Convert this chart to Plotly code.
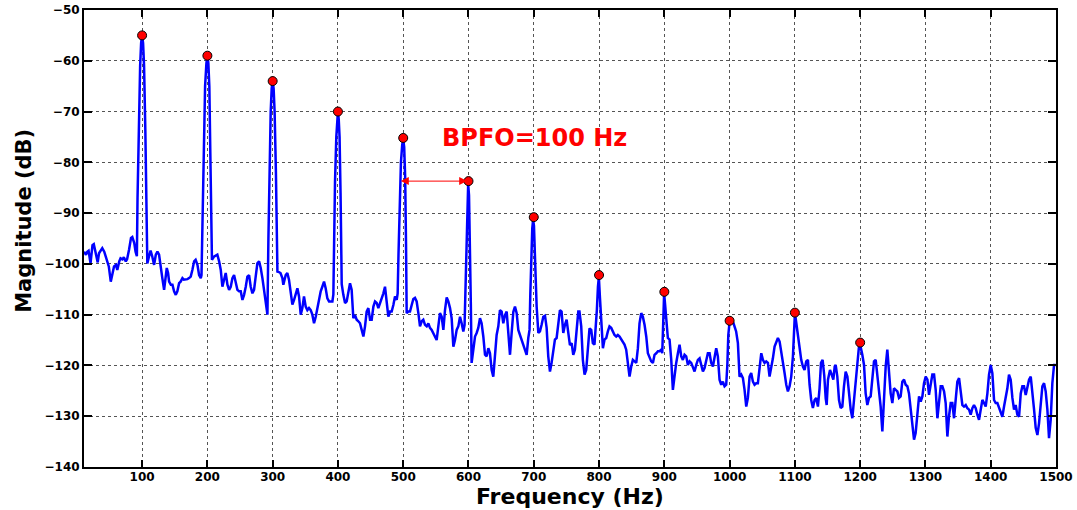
import plotly.graph_objects as go

# ---- spectrum samples: (frequency Hz, magnitude dB) ----
spectrum_points = [
    (11,-97.6),(14,-98.2),(16,-97.6),(18,-97.4),(21,-99.9),(24,-96.3),(26,-96.1),(29,-97.9),(32,-99.7),(34,-97.9),
    (37,-97.2),(39,-96.9),(42,-97.6),(44,-98.5),(47,-99.7),(49,-100.5),(52,-103.5),(55,-101.8),(57,-100.5),(60,-100.2),
    (62,-101.2),(65,-99.5),(67,-98.9),(70,-99.1),(72,-98.7),(75,-99.5),(77,-99.1),(80,-97.2),(83,-94.9),(85,-94.7),
    (88,-95.9),(90,-97.6),(92,-98.5),
    (93,-87),(94.5,-74),(97,-61),(98.5,-56.5),(100,-55),(101.5,-56.5),(103,-61),(105,-74),(106,-87),(107,-99.9),
    (108,-99.9),(110.7,-98.5),(113,-97.4),(115.5,-98.5),(118.4,-100.2),(121,-98.2),(123.5,-97.6),(126,-98.2),(128.6,-101.2),
    (131,-102.8),(133.7,-105.1),(136,-102.5),(137.8,-100.8),(139.8,-101.8),(141.4,-103.5),(144,-104.1),(146.5,-104.1),
    (149,-105.4),(151.6,-106.1),(154,-105.4),(156.7,-103.8),(159,-103.5),(161.8,-102.8),(164,-103.1),(166.8,-103.1),
    (169.4,-103),(172,-102.8),(174.5,-102.5),(177,-101.2),(179.7,-99.5),(182,-99.2),(184.8,-100.2),(187.3,-102.2),
    (189.9,-102.8),(191,-102.2),
    (192.5,-90),(194,-78),(196.5,-65),(198.5,-60.5),(200,-59),(201.5,-60.5),(203,-65),(204.5,-78),(205.5,-90),(207,-99.2),
    (210,-98.6),(212.8,-98.4),(215.3,-98.2),(218,-99.5),(220.5,-101.2),(223,-104.5),(225.5,-102.8),(228.1,-101.8),
    (230.7,-104.1),(233.3,-105.1),(235.8,-104.5),(238.4,-102.8),(240.9,-102.2),(243.5,-103.5),(246,-105.1),(248.6,-105.4),
    (251.1,-105.4),(253.7,-107.1),(256.2,-106.1),(258.8,-104.5),(261.3,-102.5),(263.9,-102.2),(266.4,-104.5),(269,-105.8),
    (271.5,-105.1),(274,-102.5),(276.6,-99.9),(279.2,-99.5),(281.7,-100.8),(284.3,-102.8),(286.9,-105.1),(289.4,-107.1),
    (292,-110),
    (293.5,-95),(295,-80),(297,-70),(298.5,-65.5),(300,-64),(301.5,-65.5),(303,-70),(305,-82),(306,-95),(307.3,-101.5),
    (309.5,-101.6),(312,-101.8),(314.9,-102.8),(316.4,-104.1),(320,-102.2),(322.5,-101.8),(325,-103.1),(327.7,-105.4),
    (330.2,-108),(332.8,-107.1),(335.3,-106.1),(337.9,-104.8),(340.4,-106.4),(343,-110),(345.5,-108.7),(348,-106.4),
    (350.6,-108.4),(353.2,-109.1),(355.7,-108.7),(358.3,-109.1),(360.8,-110),(363.4,-111.7),(366,-110.4),(368.5,-108.7),
    (371,-107.1),(373.6,-105.4),(376.1,-104.5),(378.7,-103.5),(381.2,-104.8),(383.8,-106.8),(386.4,-107.4),(389,-107.4),
    (391.5,-107.4),(393,-106),
    (394,-95),(395.5,-84),(397.5,-75),(398.8,-71.5),(400,-70),(401.2,-71.5),(402.5,-75),(404,-86),(405,-97),(405.8,-104),
    (408.3,-106.1),(410.9,-107.7),(413.4,-107.4),(416,-105.1),(418.5,-103.8),(421,-105.1),(423.6,-110.7),(426.2,-110.1),
    (428.7,-111),(431.3,-111.3),(433.8,-111.7),(436.4,-113),(439,-114.3),(441.5,-112.3),(444,-109.4),(446.6,-108.7),
    (449.2,-111),(451.7,-111),(454.3,-108.4),(456.8,-107.4),(459.4,-107.7),(461.9,-108.7),(464.5,-107.7),(467,-107.1),
    (469.6,-105.8),(472.1,-104.5),(474.7,-107.7),(477.2,-110.4),(479.8,-109.4),(482.3,-109.4),(484.9,-108.1),(487.4,-106.4),
    (490,-107.1),(491.5,-105.8),
    (492.8,-98),(494.5,-88),(496.5,-80),(498.5,-76.5),(500,-75.5),(501.5,-77),(503,-83),(504.3,-96),(505.3,-109.7),
    (507.8,-109.4),(510.4,-109.4),(513,-108.1),(515.5,-106.9),(518,-106.7),(520.6,-107.4),(523.2,-109.7),(525.7,-112.3),
    (528.3,-111.3),(530.8,-111),(533.4,-112),(536,-112.3),(538.5,-111.7),(541,-112.6),(543.6,-113),(546.1,-113.6),
    (548.7,-114.3),(551.2,-115),(553.8,-112.3),(556.3,-109.7),(558.9,-110.4),(561.5,-113),(564,-109.1),(566.6,-106.6),
    (569.1,-107.4),(571.7,-108.7),(574.2,-110.7),(576.8,-116.3),(579.3,-115),(581.9,-113),(584.4,-112.3),(587,-110.4),
    (589.5,-111.7),(592.1,-113.3),(594,-112),
    (595.3,-104),(596.8,-94),(598.3,-86.5),(599.5,-84.3),(600.8,-86.5),(602.3,-96),(603.6,-108),(604.8,-119.5),
    (607.4,-116.9),(610,-114.3),(612.5,-113.6),(615,-112.6),(617.6,-110.7),(620.1,-111.7),(622.7,-114.3),(625.3,-117.9),
    (627.8,-118.2),(630.4,-116.6),(632.9,-117.6),(635.5,-120.9),(638,-122.2),(640.6,-117.6),(643.1,-114),(645.7,-112.3),
    (648.2,-109.1),(650.8,-109.4),(653.3,-111.7),(655.9,-110.1),(658.5,-109.4),(661,-113.6),(663.6,-117.9),(666.1,-113.6),
    (668.7,-109.4),(671.2,-108.4),(673.8,-109.7),(676.3,-113),(678.9,-114),(681.4,-115),(684,-116),(686.5,-116.6),
    (689.1,-117.9),(691.6,-114.6),(693.5,-113),
    (694.7,-106),(696.2,-98),(697.7,-93),(699,-91.3),(700.3,-92.5),(701.7,-98),(703.1,-104),(704.4,-108.4),
    (707,-113.6),(709.5,-113.3),(712,-112),(714.6,-110.4),(717.2,-110.2),(719.7,-112.6),(722.2,-118.2),(724.8,-121.2),
    (727.3,-119.5),(729.9,-116.9),(732.4,-114.9),(735,-114.6),(737.5,-111.7),(740.1,-109.1),(742.6,-109.4),(745.2,-113.6),
    (747.8,-112),(750.3,-111),(752.9,-113.6),(755.4,-116),(758,-115.6),(760.5,-117.9),(763,-116.9),(765.6,-112.3),
    (768.2,-109.4),(770,-109.4),(772.7,-112.3),(775.2,-118.9),(777.8,-121.8),(780.3,-120.9),(782.9,-116.3),(785.4,-112.7),
    (788,-113),(790.5,-115.6),(793,-115.9),(795,-113),
    (796.7,-109),(798.3,-104.5),(799.7,-102.6),(801.3,-106.5),(803.3,-112.3),(805.9,-116.6),
    (808.4,-114.9),(811,-114.6),(813.5,-113.3),(816,-112.3),(818.6,-112.6),(821.2,-113.3),(823.7,-114),(826.3,-114.3),
    (828.8,-114),(831.4,-114.3),(834,-114.9),(836.5,-115.3),(839,-115.9),(841.6,-116.9),(844.2,-119.2),(846.7,-122.2),
    (849.3,-120.2),(851.8,-118.9),(854.4,-119.2),(857,-119.5),(859.5,-116.6),(862,-111.7),(864.6,-109.7),(867.1,-110.4),
    (869.7,-112),(872.3,-114.3),(874.8,-117.6),(877.4,-118.6),(879.9,-119.2),(882.5,-119.5),(885,-117.9),(887.6,-117.6),
    (890.2,-117.2),(892.7,-117.2),(895.2,-116.9),(896.8,-117.6),
    (898.2,-111),(899.7,-105.8),(901.2,-108),(902.9,-111),(905.4,-114.6),
    (908,-114.9),(910.6,-118.9),(913.1,-124.8),(915.7,-121.5),(918.2,-119.5),(920.8,-117.6),(923.3,-115.9),(925.9,-118.2),
    (928.4,-118.9),(931,-117.9),(933.5,-118.2),(936.1,-119.9),(938.7,-119.2),(941.2,-119.5),(943.8,-120.5),(946.3,-121.2),
    (948.9,-119.9),(951.4,-118.9),(954,-118.6),(956.5,-119.9),(959.1,-121.2),(961.6,-120.5),(964.2,-119.2),(966.7,-117.6),
    (969.3,-117.6),(971.8,-119.5),(974.4,-120.2),(976.9,-118.2),(979.5,-116.6),(982,-118.2),(984.6,-122.8),(987.2,-123.8),
    (989.7,-123.2),(992.3,-124.1),(994.8,-123.8),
    (996.5,-120),(998,-114),(1000,-111.4),(1003,-111),(1006,-111.7),(1008.5,-112.5),(1010,-113.3),(1012.7,-115.6),(1015.2,-122.2),
    (1017.8,-121.8),(1020.4,-122.5),(1022.9,-124.8),(1025.5,-128.1),(1028,-126.4),(1030.6,-122.2),(1033.1,-121.5),
    (1035.7,-123.2),(1038.2,-123.8),(1040.8,-123.5),(1043.3,-123.5),(1045.9,-120.9),(1048.5,-117.6),(1051,-118.9),
    (1053.6,-119.5),(1056.1,-119.2),(1058.7,-119.5),(1061.2,-122.2),(1063.8,-120.5),(1066.3,-118.6),(1068.9,-116.3),
    (1071.4,-115.6),(1074,-114.6),(1076.6,-115.3),(1079.1,-117.2),(1081.7,-118.9),(1084.2,-121.5),(1086.8,-123.8),
    (1089.3,-125.1),(1091.9,-124.1),(1094.4,-122.2),(1097,-118.2),
    (1098.5,-113),(1100,-109.8),(1101.5,-111),(1104.6,-114),
    (1107.2,-116.6),(1109.7,-118.9),(1112.3,-120.2),(1114.8,-120.9),(1117.4,-119.2),(1120,-118.9),(1122.5,-123.8),
    (1125,-126.8),(1127.6,-128.4),(1130.2,-126.8),(1132.7,-126.4),(1135.3,-128.1),(1137.8,-124.5),(1140,-119.5),
    (1142.5,-118.9),(1145,-122),(1147.2,-126.5),(1148.7,-127.8),(1150.7,-122.8),(1153.8,-120.9),(1156.4,-121.8),
    (1158.9,-122.8),(1161,-120.2),(1162.5,-119.9),(1165,-122.2),(1167.6,-126.8),(1170.1,-128.4),(1172.7,-128.1),
    (1175.2,-124.1),(1177.8,-121.2),(1180.4,-122.2),(1182.9,-126.1),(1185.5,-128.7),(1188,-130.4),(1190.6,-126.8),
    (1193.1,-122.2),(1195.7,-118.9),
    (1198,-116.5),(1199.8,-115.8),(1201.3,-116.5),(1203.3,-117.9),(1205.9,-119.9),
    (1208.4,-125.5),(1211,-127.8),(1213.6,-126.4),(1216.1,-126.1),(1218.7,-122.2),(1221.2,-119.2),(1223.8,-118.9),
    (1226.3,-122.2),(1228.9,-124.5),(1231.4,-128.1),(1234,-133),(1236.5,-126.8),(1239.1,-120.2),(1241.6,-116.9),
    (1244.2,-120.9),(1246.7,-125.5),(1249.3,-127.4),(1251.8,-124.5),(1254.4,-124.8),(1257,-125.1),(1259.5,-126.4),
    (1262,-126.1),(1264.6,-123.2),(1267.2,-122.8),(1269.7,-123.8),(1272.3,-124.1),(1274.8,-125.5),(1277.4,-128.7),
    (1280,-132.7),(1282.5,-134.6),(1285,-133.3),(1287.6,-128.7),(1290.2,-126.1),(1292.7,-127.1),(1295.3,-126.1),
    (1297.8,-123.5),(1300.4,-122.2),(1303,-122.8),(1305.5,-125.8),(1308,-123.8),(1310.6,-121.8),(1313.2,-121.8),
    (1315.7,-124.8),(1318.3,-130.4),(1320.8,-126.8),(1323.4,-124.1),(1325.9,-124.1),(1328.5,-125.1),(1331,-127.4),
    (1333.6,-134),(1336.1,-130),(1338.7,-127.4),(1341.2,-127.4),(1343.8,-130.4),(1346.3,-126.8),(1348.9,-123.2),
    (1351.5,-122.5),(1354,-124.8),(1356.6,-127.8),(1359.1,-128.1),(1361.7,-127.8),(1364.2,-128.4),(1366.8,-128.7),
    (1369.3,-129.7),(1371.9,-128.4),(1374.4,-127.8),(1377,-128.4),(1379.5,-129.7),(1382.1,-130.7),(1384.7,-128.7),
    (1387.2,-126.8),(1389.8,-127.4),(1392.3,-128.1),(1394.9,-125.5),(1397.4,-121.8),(1400,-119.9),(1402.5,-121.5),
    (1405.1,-126.8),(1407.6,-127.4),(1410.2,-127.4),(1412.7,-128.4),(1415.3,-129.1),(1417.8,-130.1),(1420.4,-128.1),
    (1422.9,-126.4),(1425.5,-124.5),(1428,-121.8),(1430.6,-122.8),(1433.2,-126.4),(1435.7,-128.7),(1438.2,-127.8),
    (1440.8,-129.7),(1443.4,-130.1),(1446,-125.5),(1448.5,-124.1),(1451,-124.1),(1453.6,-125.8),(1456.1,-124.1),
    (1458.7,-122.8),(1461.3,-122.2),(1463.8,-124.8),(1466.4,-128.7),(1468.9,-132.3),(1471.5,-133.7),(1474,-131.4),
    (1476.6,-126.8),(1479.1,-124.1),(1481.7,-123.5),(1484.2,-125.1),(1486.8,-128.7),(1489.3,-134.3),(1491.9,-130.7),
    (1494.4,-123.5),(1497,-119.9),(1499.5,-119.9),
]
freq_hz = [p[0] for p in spectrum_points]
mag_db = [p[1] for p in spectrum_points]

# ---- marked harmonics of BPFO ----
peak_freq_hz = [100, 200, 300, 400, 500, 600, 700, 800, 900, 1000, 1100, 1200]
peak_mag_db = [-55, -59, -64, -70, -75.2, -83.7, -90.8, -102.2, -105.5, -111.2, -109.6, -115.5]

# ---- annotation values ----
bpfo_label = "BPFO=100 Hz"
bpfo_label_pos = [700.5, -75.2]
bpfo_arrow_freqs = [494, 598]
bpfo_arrow_level = -83.7

x_ticks = list(range(100, 1501, 100))
y_ticks = list(range(-140, -49, 10))
x_range = [11, 1500]
y_range = [-140, -50]

tick_font = dict(family="DejaVu Sans", size=12, color="black", weight="bold")

fig = go.Figure()
fig.add_trace(go.Scatter(x=freq_hz, y=mag_db, mode="lines",
                         line=dict(color="#0000ff", width=2.5), hoverinfo="skip",
                         showlegend=False))
fig.add_trace(go.Scatter(x=peak_freq_hz, y=peak_mag_db, mode="markers",
                         marker=dict(color="#ff0000", size=9, line=dict(color="black", width=1)),
                         showlegend=False))

axis_common = dict(showline=True, linecolor="black", linewidth=2, mirror="allticks",
                   ticks="inside", tickcolor="black", tickwidth=1.5, automargin=False,
                   showgrid=True, gridcolor="#555555", griddash="dot", gridwidth=1,
                   zeroline=False, tickfont=tick_font)

fig.update_xaxes(range=x_range, tickvals=x_ticks, ticklen=7, ticklabelstandoff=-2, **axis_common)
fig.update_yaxes(range=y_range, tickvals=y_ticks, ticklen=8, **axis_common)

fig.add_annotation(x=bpfo_arrow_freqs[1], y=bpfo_arrow_level, ax=bpfo_arrow_freqs[0], ay=bpfo_arrow_level,
                   xref="x", yref="y", axref="x", ayref="y", text="", showarrow=True,
                   arrowhead=2, startarrowhead=2, arrowside="end+start",
                   arrowsize=1.6, startarrowsize=1.6, arrowwidth=1, arrowcolor="#ff0000")
fig.add_annotation(x=bpfo_label_pos[0], y=bpfo_label_pos[1], xref="x", yref="y",
                   text="<b>" + bpfo_label + "</b>", showarrow=False,
                   font=dict(family="DejaVu Sans", size=24, color="#ff0000"))

fig.add_annotation(x=0.5, y=-0.0635, xref="paper", yref="paper", xanchor="center", yanchor="middle",
                   text="<b>Frequency (Hz)</b>", showarrow=False,
                   font=dict(family="DejaVu Sans", size=22, color="black"))
fig.add_annotation(x=-0.062, y=0.538, xref="paper", yref="paper", xanchor="center", yanchor="middle",
                   text="<b>Magnitude (dB)</b>", showarrow=False, textangle=-90,
                   font=dict(family="DejaVu Sans", size=21, color="black"))

fig.update_layout(width=1077, height=510, autosize=False,
                  margin=dict(l=84, r=21, t=10, b=43, pad=0),
                  plot_bgcolor="white", paper_bgcolor="white")

fig.write_html("out.html")
